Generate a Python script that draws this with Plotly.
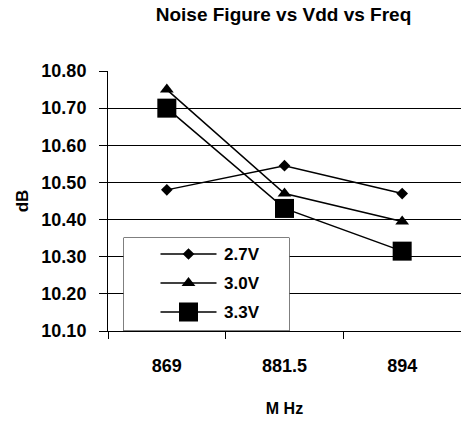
import plotly.graph_objects as go

freqs = ["869", "881.5", "894"]
nf_27 = [10.48, 10.545, 10.47]
nf_30 = [10.75, 10.47, 10.395]
nf_33 = [10.70, 10.43, 10.315]

names = ["2.7V", "3.0V", "3.3V"]
values = [nf_27, nf_30, nf_33]
symbols = ["diamond", "triangle-up", "square"]
sizes = [9, 12, 19]

FONT = "Liberation Sans, Arial, sans-serif"

fig = go.Figure()
for name, vals, sym, size in zip(names, values, symbols, sizes):
    fig.add_trace(go.Scatter(
        x=freqs, y=vals, name=name, mode="lines+markers",
        line=dict(color="black", width=1.5),
        marker=dict(symbol=sym, size=size, color="black"),
        showlegend=False,
    ))

# Boxed key drawn on its own small axes (units = pixels inside the box)
KEY_W, KEY_H = 166, 93.5
line_x = [37, 93]
mark_x = 65
text_x = 98
row_y = [16.5, 45.5, 74.5]
for name, sym, size, ry in zip(names, symbols, sizes, row_y):
    fig.add_trace(go.Scatter(
        x=line_x, y=[ry, ry], mode="lines", xaxis="x2", yaxis="y2",
        line=dict(color="black", width=1.5), showlegend=False, hoverinfo="skip",
    ))
    fig.add_trace(go.Scatter(
        x=[mark_x], y=[ry], mode="markers", xaxis="x2", yaxis="y2",
        marker=dict(symbol=sym, size=size, color="black"),
        showlegend=False, hoverinfo="skip",
    ))
    fig.add_annotation(
        x=text_x, y=ry, xref="x2", yref="y2", text=name, showarrow=False,
        xanchor="left", yanchor="middle",
        font=dict(size=17, weight="bold", color="black"),
    )
fig.add_shape(
    type="rect", xref="x2", yref="y2", x0=0, x1=KEY_W, y0=0, y1=KEY_H,
    fillcolor="white", line=dict(color="black", width=1), layer="between",
)

fig.update_layout(
    width=461, height=422,
    margin=dict(l=108, r=0, t=71, b=91),
    paper_bgcolor="white", plot_bgcolor="white",
    font=dict(family=FONT, color="black", size=18, weight="bold"),
    title=dict(text="Noise Figure vs Vdd vs Freq", x=0.615, xanchor="center",
               y=0.965, yanchor="middle", font=dict(size=19, weight="bold")),
    showlegend=False,
    xaxis=dict(
        type="category", range=[-0.5, 2.5], tickson="boundaries", ticks="outside",
        ticklen=7, tickcolor="black", showline=True, linecolor="black", linewidth=1,
        showgrid=False, tickfont=dict(size=18, weight="bold"), ticklabelstandoff=18,
        title=dict(text="M Hz", font=dict(size=16, weight="bold"), standoff=28),
    ),
    yaxis=dict(
        range=[10.10, 10.80], dtick=0.1, tick0=10.10, tickformat=".2f",
        ticks="outside", ticklen=8, tickcolor="black",
        showline=True, linecolor="black", linewidth=1,
        showgrid=True, gridcolor="black", gridwidth=1,
        tickfont=dict(size=18, weight="bold"), ticklabelstandoff=9,
        title=dict(text="dB", font=dict(size=17, weight="bold"), standoff=8),
        zeroline=False,
    ),
    xaxis2=dict(domain=[15.5 / 353, 181.5 / 353], range=[0, KEY_W], anchor="y2",
                visible=False, fixedrange=True),
    yaxis2=dict(domain=[0, KEY_H / 260], range=[KEY_H, 0], anchor="x2",
                visible=False, fixedrange=True),
)

fig.write_html("out.html")
